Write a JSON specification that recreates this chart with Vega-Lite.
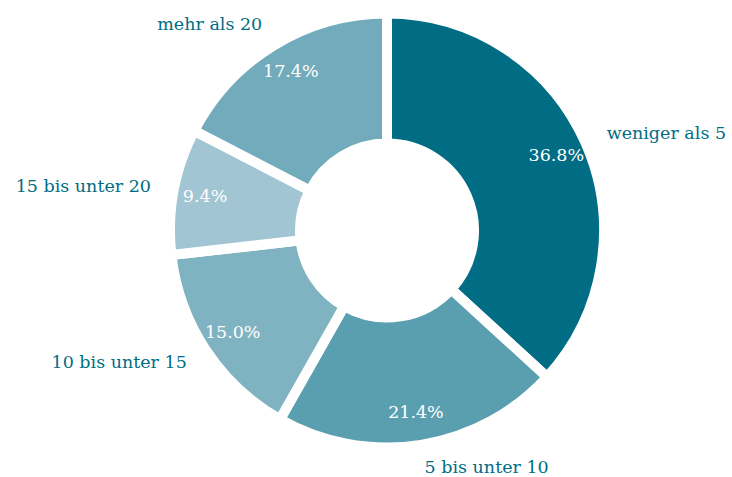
{
  "$schema": "https://vega.github.io/schema/vega-lite/v6.json",
  "width": 690,
  "height": 461,
  "autosize": "none",
  "padding": {"left": 42, "right": 0, "top": 0, "bottom": 16},
  "background": "white",
  "view": {"stroke": null},
  "data": {
    "values": [
      {"kategorie": "weniger als 5", "anteil": 0.368, "rank": 1},
      {"kategorie": "5 bis unter 10", "anteil": 0.214, "rank": 2},
      {"kategorie": "10 bis unter 15", "anteil": 0.150, "rank": 3},
      {"kategorie": "15 bis unter 20", "anteil": 0.094, "rank": 4},
      {"kategorie": "mehr als 20", "anteil": 0.174, "rank": 5}
    ]
  },
  "encoding": {
    "theta": {"field": "anteil", "type": "quantitative", "stack": true},
    "order": {"field": "rank", "type": "quantitative", "sort": "ascending"}
  },
  "layer": [
    {
      "mark": {"type": "arc", "outerRadius": 217, "innerRadius": 87, "stroke": "white", "strokeWidth": 10},
      "encoding": {
        "color": {
          "field": "kategorie",
          "type": "nominal",
          "scale": {
            "domain": ["weniger als 5", "5 bis unter 10", "10 bis unter 15", "15 bis unter 20", "mehr als 20"],
            "range": ["#006d85", "#5a9fb0", "#80b3c2", "#a2c5d3", "#72abbb"]
          },
          "legend": null
        }
      }
    },
    {
      "mark": {"type": "text", "radius": 185, "font": "DejaVu Serif", "fontSize": 17.5, "fill": "white", "align": "center", "baseline": "middle"},
      "encoding": {
        "text": {"field": "anteil", "type": "quantitative", "format": ".1%"}
      }
    },
    {
      "mark": {"type": "text", "radius": 240, "font": "DejaVu Serif", "fontSize": 17.5, "fill": "#006d85", "align": "left", "baseline": "middle"},
      "encoding": {
        "text": {"condition": {"test": "datum.rank <= 2", "field": "kategorie"}, "value": ""}
      }
    },
    {
      "mark": {"type": "text", "radius": 240, "font": "DejaVu Serif", "fontSize": 17.5, "fill": "#006d85", "align": "right", "baseline": "middle"},
      "encoding": {
        "text": {"condition": {"test": "datum.rank > 2", "field": "kategorie"}, "value": ""}
      }
    }
  ]
}
